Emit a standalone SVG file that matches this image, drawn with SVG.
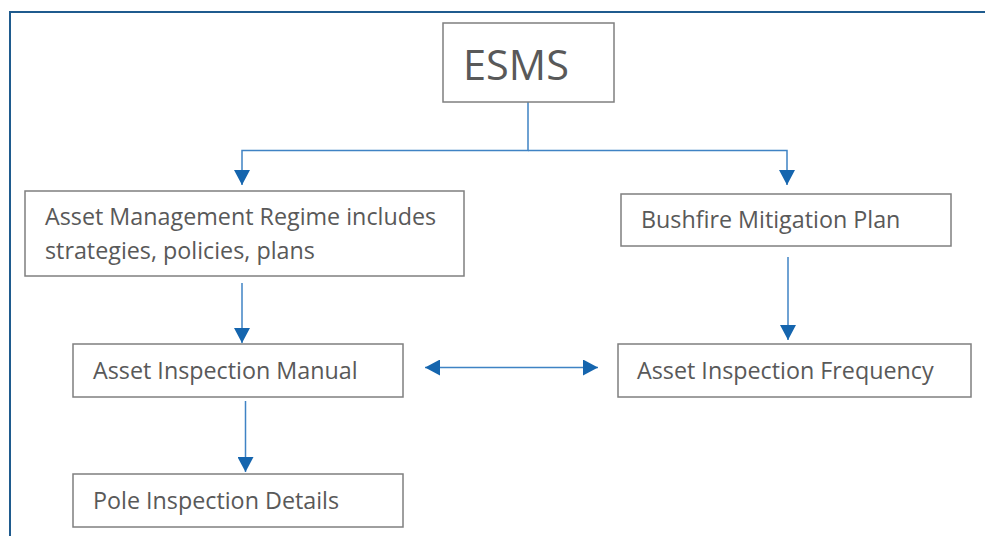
<svg xmlns="http://www.w3.org/2000/svg" width="985" height="536" viewBox="0 0 985 536">
<style>
.box{fill:#fff;stroke:#7f7f7f;stroke-width:1.5}
.t{font-family:"Open Sans","Liberation Sans",sans-serif;fill:#595959;font-size:23.3px}
.c{fill:none;stroke:#3f83c4;stroke-width:1.5}
</style>
<defs>
<marker id="ah" viewBox="0 0 15 16" refX="15" refY="8" markerWidth="15" markerHeight="16" markerUnits="userSpaceOnUse" orient="auto-start-reverse">
<path d="M0,0 L15,8 L0,16 z" fill="#1565ae"/>
</marker>
</defs>
<rect x="0" y="0" width="985" height="536" fill="#fff"/>
<path d="M10,536 V12 H985" fill="none" stroke="#1f5b8e" stroke-width="2"/>
<g id="connectors">
<path class="c" d="M528,102 V150.5 H242 V185" marker-end="url(#ah)"/>
<path class="c" d="M528,150.5 H787 V185" marker-end="url(#ah)"/>
<path class="c" d="M242,283 V343" marker-end="url(#ah)"/>
<path class="c" d="M788,257 V340" marker-end="url(#ah)"/>
<path class="c" d="M245.5,401 V472" marker-end="url(#ah)"/>
<path class="c" d="M425,367.5 H598" marker-start="url(#ah)" marker-end="url(#ah)"/>
</g>
<g id="esms">
<rect class="box" x="443" y="23" width="171" height="79"/>
<text class="t" x="463" y="80" style="font-size:41.5px">ESMS</text>
</g>
<g id="amr">
<rect class="box" x="25" y="191" width="439" height="85"/>
<text class="t" x="45" y="225">Asset Management Regime includes</text>
<text class="t" x="45" y="259">strategies, policies, plans</text>
</g>
<g id="bmp">
<rect class="box" x="621" y="194" width="330" height="52"/>
<text class="t" x="641" y="228">Bushfire Mitigation Plan</text>
</g>
<g id="aim">
<rect class="box" x="73" y="344" width="330" height="53"/>
<text class="t" x="93" y="379">Asset Inspection Manual</text>
</g>
<g id="aif">
<rect class="box" x="618" y="344" width="353" height="53"/>
<text class="t" x="637" y="379">Asset Inspection Frequency</text>
</g>
<g id="pid">
<rect class="box" x="73" y="474" width="330" height="53"/>
<text class="t" x="93" y="509">Pole Inspection Details</text>
</g>
</svg>
